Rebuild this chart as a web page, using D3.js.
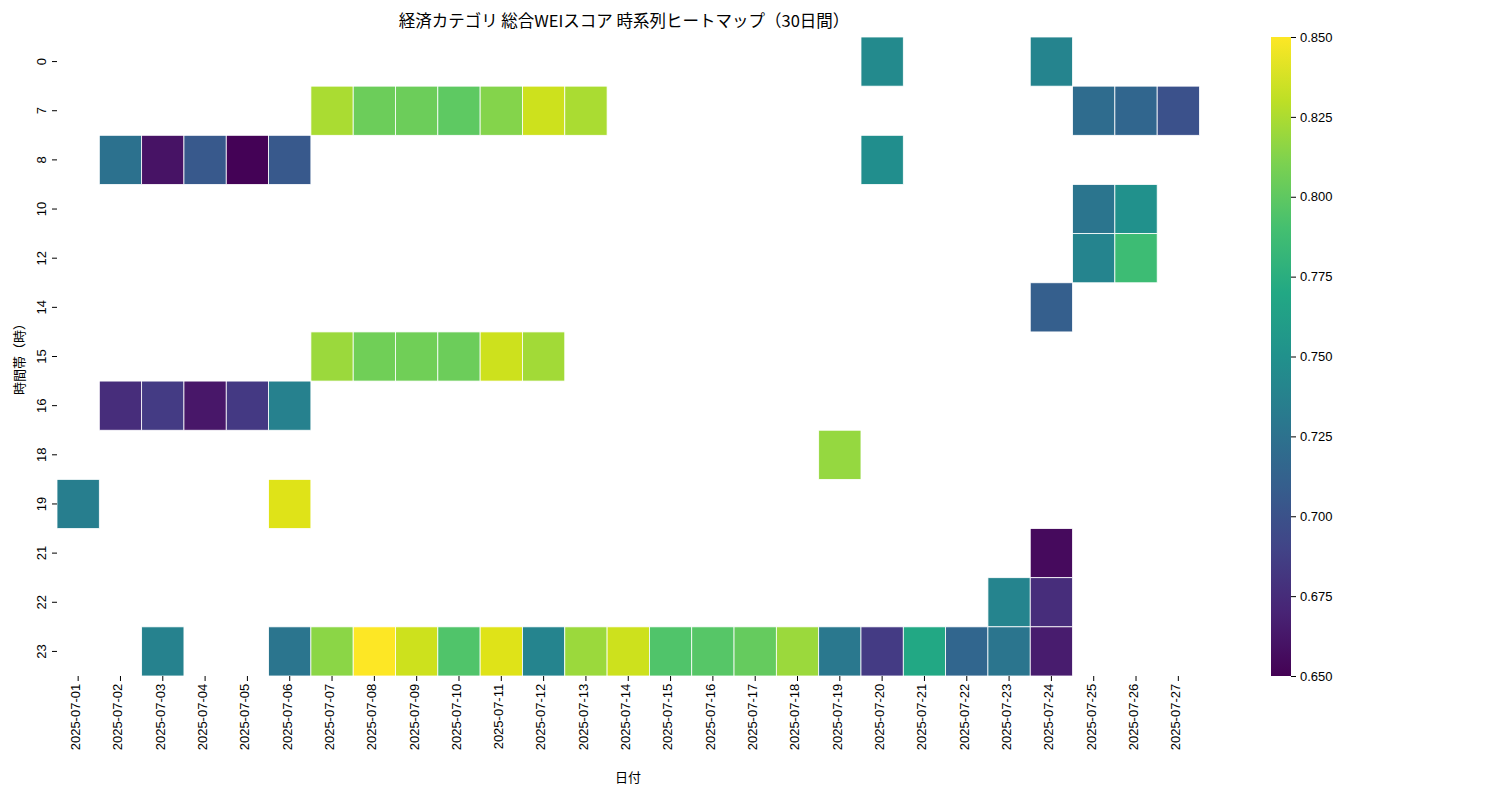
<!DOCTYPE html>
<html><head><meta charset="utf-8">
<script src="https://cdn.jsdelivr.net/npm/d3@7"></script>
<style>body{margin:0;background:#fff;font-family:"Noto Sans CJK JP","DejaVu Sans",sans-serif;}</style>
</head><body><svg id="c" width="1500" height="800"></svg>
<script>
// ---- DATA ----
var dates = d3.range(1, 28).map(function(d) { return '2025-07-' + (d < 10 ? '0' + d : d); });
var hours = ['0', '7', '8', '10', '12', '14', '15', '16', '18', '19', '21', '22', '23'];
var N = null;
// one array per hour, 27 days (07-01 .. 07-27)
var h0  = [N,N,N,N,N,N,N,N,N,N,N,N,N,N,N,N,N,N,N,0.745,N,N,N,0.740,N,N,N];
var h7  = [N,N,N,N,N,N,0.825,0.805,0.805,0.800,0.813,0.835,0.825,N,N,N,N,N,N,N,N,N,N,N,0.720,0.715,0.700];
var h8  = [N,0.725,0.660,0.705,0.651,0.705,N,N,N,N,N,N,N,N,N,N,N,N,N,0.748,N,N,N,N,N,N,N];
var h10 = [N,N,N,N,N,N,N,N,N,N,N,N,N,N,N,N,N,N,N,N,N,N,N,N,0.728,0.750,N];
var h12 = [N,N,N,N,N,N,N,N,N,N,N,N,N,N,N,N,N,N,N,N,N,N,N,N,0.740,0.787,N];
var h14 = [N,N,N,N,N,N,N,N,N,N,N,N,N,N,N,N,N,N,N,N,N,N,N,0.710,N,N,N];
var h15 = [N,N,N,N,N,N,0.820,0.807,0.807,0.805,0.835,0.822,N,N,N,N,N,N,N,N,N,N,N,N,N,N,N];
var h16 = [N,0.675,0.685,0.662,0.683,0.737,N,N,N,N,N,N,N,N,N,N,N,N,N,N,N,N,N,N,N,N,N];
var h18 = [N,N,N,N,N,N,N,N,N,N,N,N,N,N,N,N,N,N,0.818,N,N,N,N,N,N,N,N];
var h19 = [0.735,N,N,N,N,0.840,N,N,N,N,N,N,N,N,N,N,N,N,N,N,N,N,N,N,N,N,N];
var h21 = [N,N,N,N,N,N,N,N,N,N,N,N,N,N,N,N,N,N,N,N,N,N,N,0.655,N,N,N];
var h22 = [N,N,N,N,N,N,N,N,N,N,N,N,N,N,N,N,N,N,N,N,N,N,0.740,0.675,N,N,N];
var h23 = [N,N,0.738,N,N,0.728,0.815,0.850,0.835,0.795,0.840,0.740,0.820,0.835,0.795,0.797,0.803,0.820,0.730,0.685,0.770,0.715,0.728,0.665,N,N,N];
var rows = [h0, h7, h8, h10, h12, h14, h15, h16, h18, h19, h21, h22, h23];
var cbTicks = d3.range(0, 9).map(function(i) { return 0.65 + i * 0.025; });

// ---- RENDER ----
var svg = d3.select('#c');
var x = d3.scaleBand().domain(dates).range([57, 1199.5]);
var y = d3.scaleBand().domain(hours).range([37, 676]);
var color = d3.scaleSequential(d3.interpolateViridis).domain([0.65, 0.85]);

var cells = [];
rows.forEach(function(r, i) {
  r.forEach(function(v, j) { if (v !== null) cells.push({ h: hours[i], d: dates[j], v: v }); });
});
svg.append('g').selectAll('rect').data(cells).enter().append('rect')
  .attr('x', function(c) { return x(c.d); })
  .attr('y', function(c) { return y(c.h); })
  .attr('width', x.bandwidth()).attr('height', y.bandwidth())
  .attr('fill', function(c) { return color(c.v); })
  .attr('stroke', '#fff').attr('stroke-width', 0.8);

var xa = svg.append('g').attr('transform', 'translate(0,676)')
  .call(d3.axisBottom(x).tickSize(5).tickPadding(4));
xa.select('.domain').remove();
xa.selectAll('text').attr('transform', 'rotate(-90)').attr('text-anchor', 'end')
  .attr('dx', '-0.6em').attr('dy', '-0.55em').attr('x', 0).attr('y', 9).style('font-size', '13px');

var ya = svg.append('g').attr('transform', 'translate(57,0)')
  .call(d3.axisLeft(y).tickSize(5).tickPadding(5));
ya.select('.domain').remove();
ya.selectAll('.tick').each(function() {
  d3.select(this).select('text')
    .attr('transform', 'translate(-16,0) rotate(-90)').attr('x', 0).attr('y', 0)
    .attr('dy', '0.35em').attr('text-anchor', 'middle').style('font-size', '13px');
});

svg.append('text').attr('x', 624).attr('y', 27).attr('text-anchor', 'middle')
  .style('font-size', '16.5px').text('経済カテゴリ 総合WEIスコア 時系列ヒートマップ（30日間）');
svg.append('text').attr('x', 628).attr('y', 782).attr('text-anchor', 'middle')
  .style('font-size', '13px').text('日付');
svg.append('text').attr('transform', 'translate(24,356) rotate(-90)').attr('text-anchor', 'middle')
  .style('font-size', '13px').text('時間帯（時）');

// colorbar
var defs = svg.append('defs');
var grad = defs.append('linearGradient').attr('id', 'g').attr('x1', 0).attr('y1', 1).attr('x2', 0).attr('y2', 0);
d3.range(0, 11).forEach(function(i) {
  grad.append('stop').attr('offset', i / 10).attr('stop-color', d3.interpolateViridis(i / 10));
});
svg.append('rect').attr('x', 1271).attr('y', 37).attr('width', 20).attr('height', 639).attr('fill', 'url(#g)');
var cy = d3.scaleLinear().domain([0.65, 0.85]).range([676, 37]);
var ca = svg.append('g').attr('transform', 'translate(1291,0)')
  .call(d3.axisRight(cy).tickValues(cbTicks).tickFormat(d3.format('.3f')).tickSize(5).tickPadding(4));
ca.select('.domain').remove();
ca.selectAll('text').style('font-size', '13px');
</script></body></html>
